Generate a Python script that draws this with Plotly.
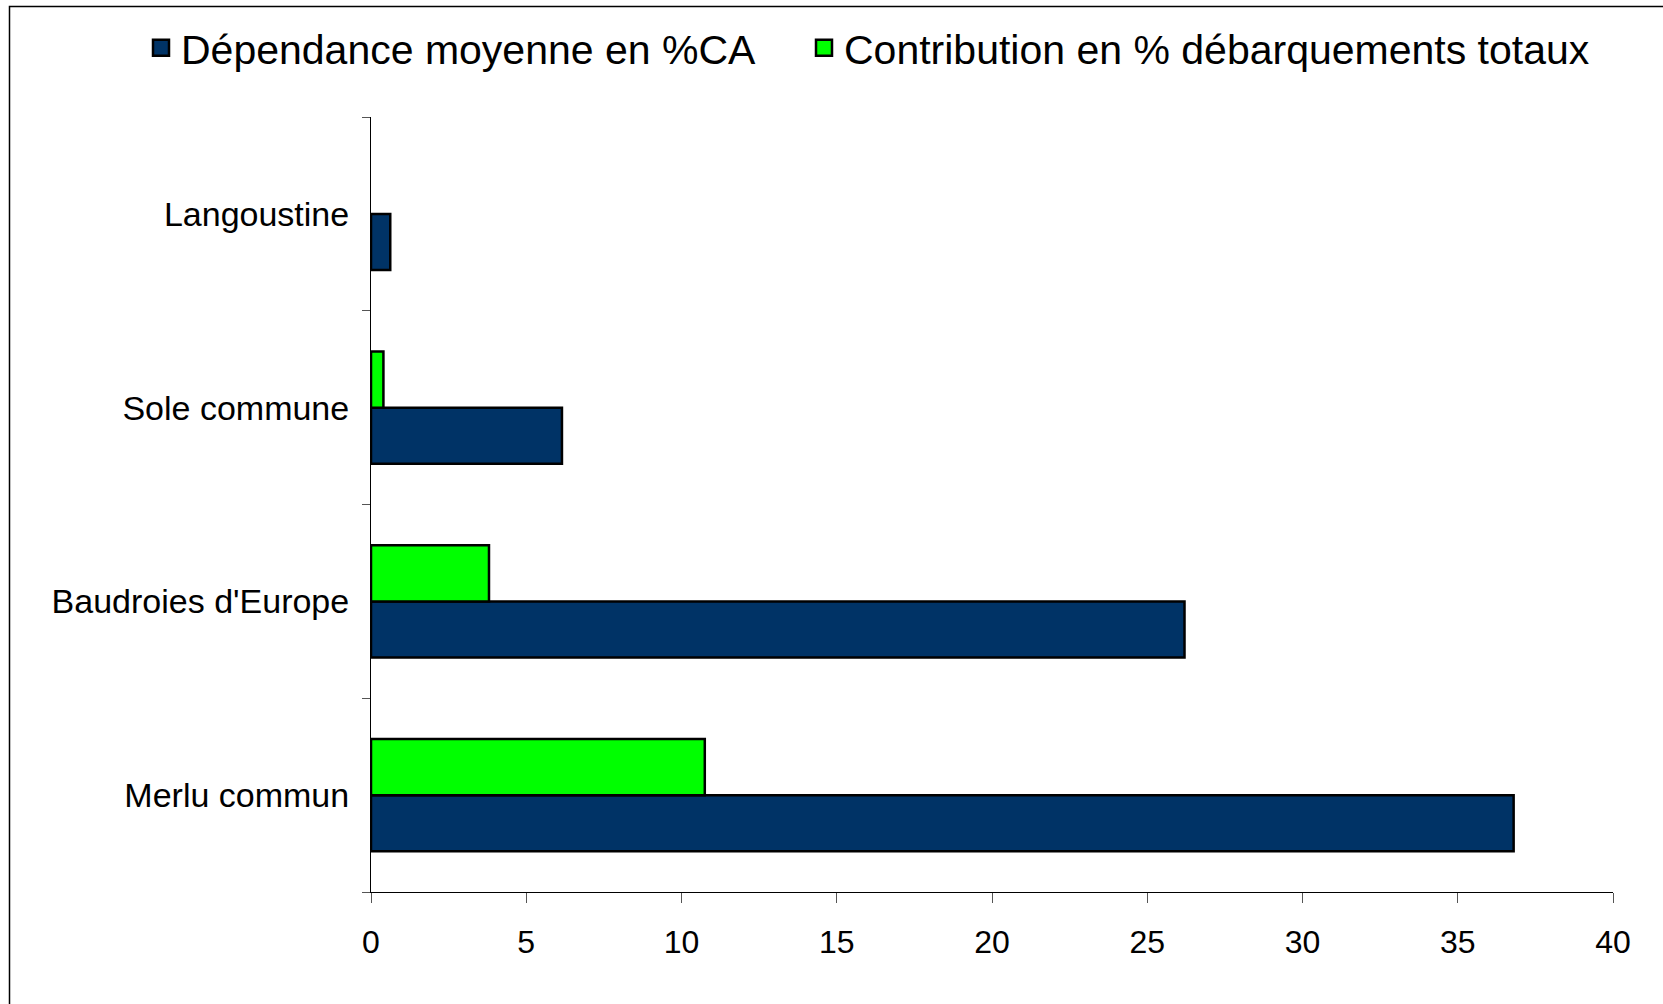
import plotly.graph_objects as go

categories = ["Merlu commun", "Baudroies d'Europe", "Sole commune", "Langoustine"]
dependance = [36.8, 26.2, 6.15, 0.62]
contribution = [10.75, 3.8, 0.4, None]
x_ticks = [0, 5, 10, 15, 20, 25, 30, 35, 40]
series_names = ["Dépendance moyenne en %CA", "Contribution en % débarquements totaux"]
series_colors = ["#003366", "#00FF00"]

W, H = 1663, 1004
L, R, T, B = 371, 50, 117, 112
pw, ph = W - L - R, H - T - B

fig = go.Figure()
for vals, name, col in zip([dependance, contribution], series_names, series_colors):
    fig.add_trace(go.Bar(
        y=categories, x=vals, orientation="h", name=name, showlegend=False,
        marker=dict(color=col, line=dict(color="black", width=2.5)),
    ))
# legend entries (square swatches with black outline), one legend box each
for name, col, lg in zip(series_names, series_colors, ["legend", "legend2"]):
    fig.add_trace(go.Scatter(
        x=[None], y=[None], mode="markers", name=name, legend=lg,
        marker=dict(symbol="square", size=16, color=col, line=dict(color="black", width=2.5)),
    ))

legend_common = dict(
    orientation="h", xanchor="left", yanchor="middle",
    y=(H - B - 48) / ph, font=dict(size=41), itemsizing="trace",
    bgcolor="rgba(0,0,0,0)",
)

fig.update_layout(
    width=W, height=H,
    margin=dict(l=L, r=R, t=T, b=B),
    paper_bgcolor="white", plot_bgcolor="white",
    font=dict(family="Liberation Sans, Arial, sans-serif", color="black"),
    barmode="group", bargap=0.42, bargroupgap=0,
    showlegend=True,
    legend=dict(x=(141 - L) / pw, **legend_common),
    legend2=dict(x=(804 - L) / pw, **legend_common),
    xaxis=dict(
        range=[0, 40], tickvals=x_ticks, showgrid=False, zeroline=False,
        showline=True, linecolor="black", linewidth=1,
        ticks="outside", ticklen=10, tickcolor="#555", tickwidth=1,
        tickfont=dict(size=32), ticklabelstandoff=12,
    ),
    yaxis=dict(
        categoryorder="array", categoryarray=categories,
        showgrid=False, showline=True, linecolor="black", linewidth=1,
        ticks="outside", ticklen=8, tickcolor="#555", tickwidth=1,
        tickson="boundaries", tickfont=dict(size=34), ticklabelstandoff=14,
    ),
    shapes=[dict(
        type="rect", xref="paper", yref="paper",
        x0=(9.5 - L) / pw, x1=(1700 - L) / pw,
        y0=(H - B - 1050) / ph, y1=(H - B - 6.5) / ph,
        line=dict(color="black", width=1.5), fillcolor="rgba(0,0,0,0)", layer="below",
    )],
)

fig.write_html(
    "out.html",
    config={"displayModeBar": False},
    post_script="document.body.style.margin='0';document.body.style.overflow='hidden';",
)
